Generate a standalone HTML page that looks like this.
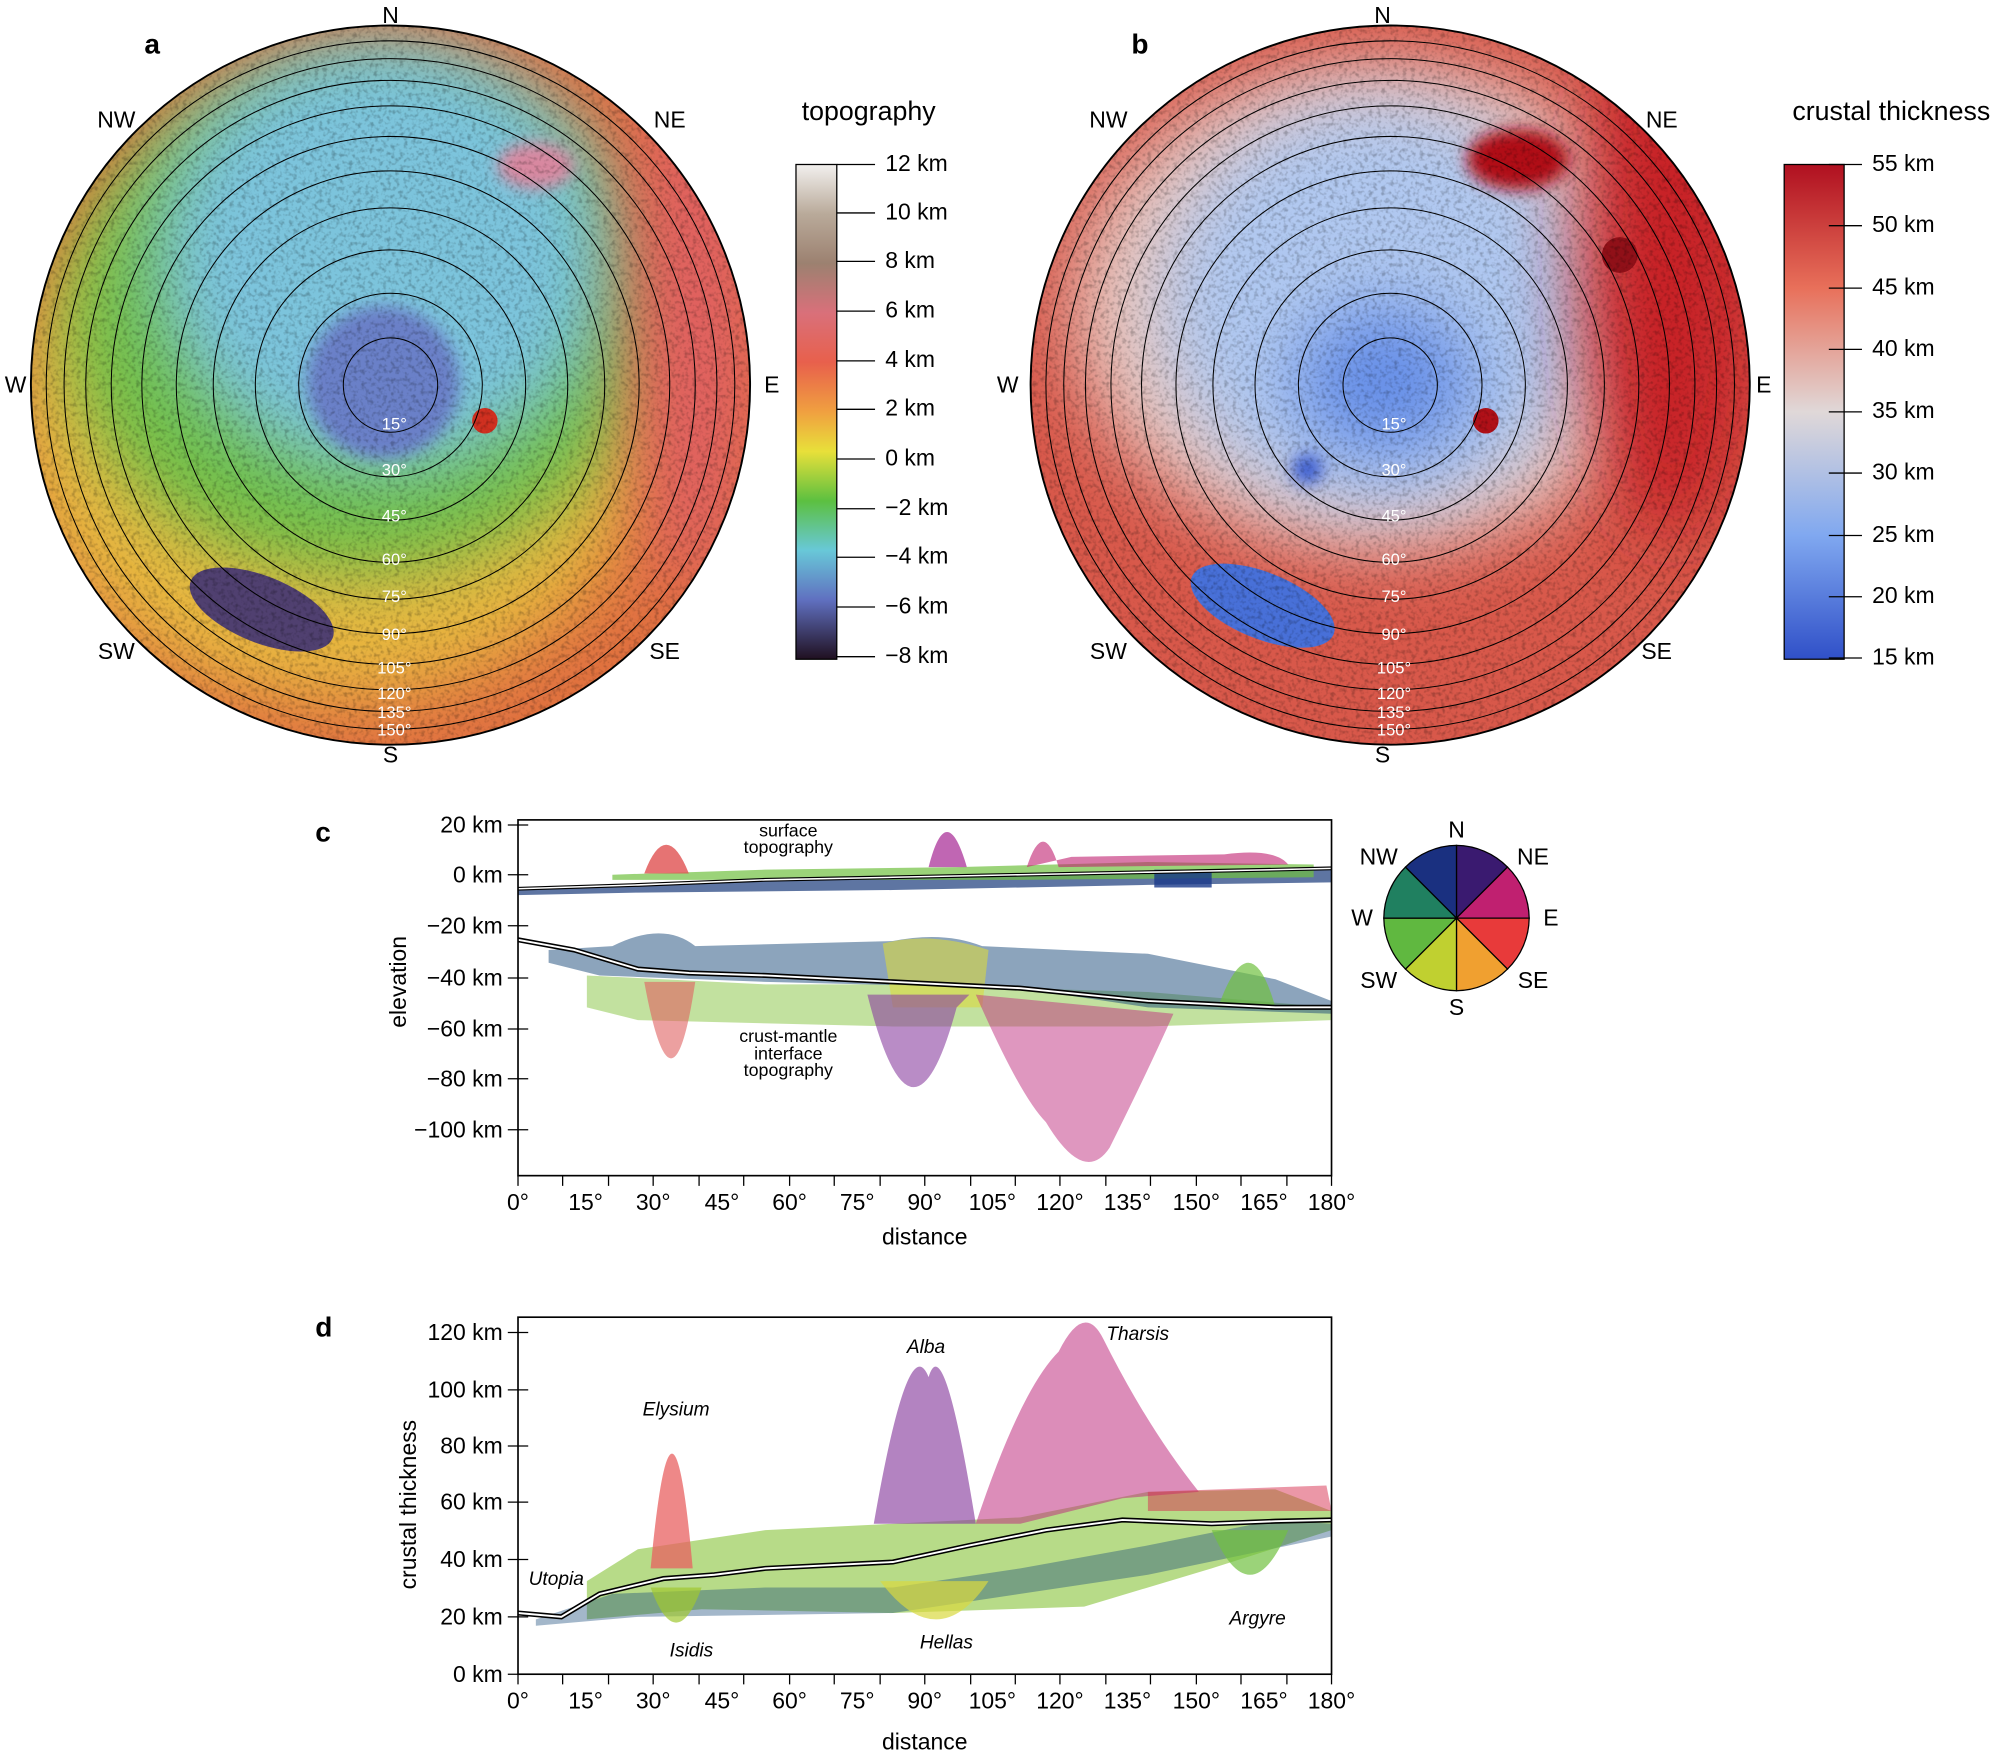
<!DOCTYPE html>
<html><head><meta charset="utf-8"><style>
html,body{margin:0;padding:0;background:#fff;}
svg{display:block;font-family:"Liberation Sans",sans-serif;}
</style></head><body>
<svg width="2000" height="1752" viewBox="0 0 1568 1374" xmlns="http://www.w3.org/2000/svg">
<defs>
<filter id="bl" x="-50%" y="-50%" width="200%" height="200%"><feGaussianBlur stdDeviation="28"/></filter>
<filter id="bl2" x="-50%" y="-50%" width="200%" height="200%"><feGaussianBlur stdDeviation="6"/></filter>
<filter id="tx" x="0" y="0" width="100%" height="100%"><feTurbulence type="fractalNoise" baseFrequency="0.3" numOctaves="2" seed="3"/><feColorMatrix values="0 0 0 0 0  0 0 0 0 0  0 0 0 0 0  0 0 0 -3 1.6"/></filter>
<clipPath id="ca"><circle cx="306" cy="302" r="282"/></clipPath>
<clipPath id="cb"><circle cx="1090" cy="302" r="282"/></clipPath>
<linearGradient id="gt" x1="0" y1="0" x2="0" y2="1">
<stop offset="0" stop-color="#f2f0ee"/><stop offset="0.1" stop-color="#b9aa9a"/><stop offset="0.2" stop-color="#9c8170"/>
<stop offset="0.3" stop-color="#d9707a"/><stop offset="0.4" stop-color="#e8604c"/><stop offset="0.5" stop-color="#f0a040"/>
<stop offset="0.58" stop-color="#e8e03a"/><stop offset="0.68" stop-color="#5cc040"/><stop offset="0.78" stop-color="#68c8d8"/>
<stop offset="0.88" stop-color="#6070c0"/><stop offset="1" stop-color="#201020"/></linearGradient>
<linearGradient id="gc" x1="0" y1="0" x2="0" y2="1">
<stop offset="0" stop-color="#b01020"/><stop offset="0.25" stop-color="#e8705a"/><stop offset="0.5" stop-color="#e0d8d8"/>
<stop offset="0.75" stop-color="#80a8f0"/><stop offset="1" stop-color="#3050c8"/></linearGradient>
</defs>
<rect width="1568" height="1374" fill="#fff"/>

<!-- panel a -->
<g clip-path="url(#ca)">
<circle cx="306" cy="302" r="282" fill="#e07040"/>
<ellipse cx="260" cy="330" rx="250" ry="220" fill="#e8b840" filter="url(#bl)"/>
<ellipse cx="280" cy="250" rx="230" ry="200" fill="#70c048" filter="url(#bl)"/>
<ellipse cx="300" cy="200" rx="180" ry="170" fill="#7cc4dc" filter="url(#bl)"/>
<ellipse cx="300" cy="300" rx="60" ry="60" fill="#6a80c8" filter="url(#bl2)"/>
<ellipse cx="545" cy="250" rx="50" ry="220" fill="#e06060" filter="url(#bl)"/>
<ellipse cx="420" cy="130" rx="30" ry="18" fill="#d888a0" filter="url(#bl2)"/>
<ellipse cx="205" cy="478" rx="60" ry="26" transform="rotate(22 205 478)" fill="#504070"/>
<circle cx="380" cy="330" r="10" fill="#d03020"/>
<rect x="20" y="20" width="580" height="570" filter="url(#tx)" opacity="0.22"/>
</g>
<g fill="none" stroke="#000" stroke-width="0.8">
<circle cx="306" cy="302" r="37"/><circle cx="306" cy="302" r="72"/><circle cx="306" cy="302" r="106"/>
<circle cx="306" cy="302" r="139"/><circle cx="306" cy="302" r="168"/><circle cx="306" cy="302" r="195"/>
<circle cx="306" cy="302" r="219"/><circle cx="306" cy="302" r="239"/><circle cx="306" cy="302" r="256"/><circle cx="306" cy="302" r="270"/>
<circle cx="306" cy="302" r="282" stroke-width="1.5"/>
</g>
<g font-size="13" fill="#fff" text-anchor="middle">
<text x="309" y="337">15°</text><text x="309" y="373">30°</text><text x="309" y="409">45°</text><text x="309" y="443">60°</text>
<text x="309" y="472">75°</text><text x="309" y="502">90°</text><text x="309" y="528">105°</text><text x="309" y="548">120°</text>
<text x="309" y="563">135°</text><text x="309" y="577">150°</text></g>
<g font-size="18" text-anchor="middle"><text x="306" y="18">N</text><text x="306" y="598">S</text><text x="12" y="308">W</text><text x="605" y="308">E</text>
<text x="91" y="100">NW</text><text x="525" y="100">NE</text><text x="91" y="517">SW</text><text x="521" y="517">SE</text>
<text x="681" y="94" font-size="21">topography</text></g>
<text x="113" y="42" font-size="22" font-weight="bold">a</text>
<rect x="624" y="129" width="32" height="388" fill="url(#gt)" stroke="#000"/>
<g stroke="#000"><path d="M656 129h30M656 167h30M656 205h30M656 244h30M656 283h30M656 321h30M656 360h30M656 399h30M656 437h30M656 476h30M656 515h30"/></g>
<g font-size="18"><text x="694" y="134">12 km</text><text x="694" y="172">10 km</text><text x="694" y="210">8 km</text><text x="694" y="249">6 km</text>
<text x="694" y="288">4 km</text><text x="694" y="326">2 km</text><text x="694" y="365">0 km</text><text x="694" y="404">−2 km</text>
<text x="694" y="442">−4 km</text><text x="694" y="481">−6 km</text><text x="694" y="520">−8 km</text></g>

<!-- panel b -->
<g clip-path="url(#cb)">
<circle cx="1090" cy="302" r="282" fill="#d8584a"/>
<ellipse cx="1080" cy="240" rx="240" ry="190" fill="#e8c8c0" filter="url(#bl)"/>
<ellipse cx="1080" cy="240" rx="170" ry="160" fill="#b0c8f0" filter="url(#bl)"/>
<ellipse cx="1085" cy="300" rx="70" ry="60" fill="#6890e8" filter="url(#bl)"/>
<ellipse cx="1310" cy="210" rx="70" ry="210" fill="#c82028" filter="url(#bl)"/>
<ellipse cx="1190" cy="125" rx="40" ry="24" fill="#b01018" filter="url(#bl2)"/>
<circle cx="1270" cy="200" r="14" fill="#901018"/>
<ellipse cx="990" cy="475" rx="60" ry="26" transform="rotate(22 990 475)" fill="#4870d8"/>
<circle cx="1025" cy="368" r="12" fill="#4060d0" filter="url(#bl2)"/>
<circle cx="1165" cy="330" r="10" fill="#b01018"/>
<rect x="800" y="20" width="580" height="570" filter="url(#tx)" opacity="0.22"/>
</g>
<g fill="none" stroke="#000" stroke-width="0.8">
<circle cx="1090" cy="302" r="37"/><circle cx="1090" cy="302" r="72"/><circle cx="1090" cy="302" r="106"/>
<circle cx="1090" cy="302" r="139"/><circle cx="1090" cy="302" r="168"/><circle cx="1090" cy="302" r="195"/>
<circle cx="1090" cy="302" r="219"/><circle cx="1090" cy="302" r="239"/><circle cx="1090" cy="302" r="256"/><circle cx="1090" cy="302" r="270"/>
<circle cx="1090" cy="302" r="282" stroke-width="1.5"/>
</g>
<g font-size="13" fill="#fff" text-anchor="middle">
<text x="1093" y="337">15°</text><text x="1093" y="373">30°</text><text x="1093" y="409">45°</text><text x="1093" y="443">60°</text>
<text x="1093" y="472">75°</text><text x="1093" y="502">90°</text><text x="1093" y="528">105°</text><text x="1093" y="548">120°</text>
<text x="1093" y="563">135°</text><text x="1093" y="577">150°</text></g>
<g font-size="18" text-anchor="middle"><text x="1084" y="18">N</text><text x="1084" y="598">S</text><text x="790" y="308">W</text><text x="1383" y="308">E</text>
<text x="869" y="100">NW</text><text x="1303" y="100">NE</text><text x="869" y="517">SW</text><text x="1299" y="517">SE</text>
<text x="1483" y="94" font-size="21">crustal thickness</text></g>
<text x="887" y="42" font-size="22" font-weight="bold">b</text>
<rect x="1399" y="129" width="47" height="388" fill="url(#gc)" stroke="#000"/>
<g stroke="#000"><path d="M1434 129h26M1434 177h26M1434 226h26M1434 274h26M1434 323h26M1434 371h26M1434 420h26M1434 468h26M1434 516h26"/></g>
<g font-size="18"><text x="1468" y="134">55 km</text><text x="1468" y="182">50 km</text><text x="1468" y="231">45 km</text><text x="1468" y="279">40 km</text>
<text x="1468" y="328">35 km</text><text x="1468" y="376">30 km</text><text x="1468" y="425">25 km</text><text x="1468" y="473">20 km</text><text x="1468" y="521">15 km</text></g>

<!-- panel c -->
<text x="247" y="660" font-size="22" font-weight="bold">c</text>
<g>
<path d="M406 698 L500 694 L600 690 L700 688 L800 686 L900 684 L1000 682 L1044 681 L1044 692 L900 694 L700 698 L500 700 L406 702Z" fill="#1a3a7a" opacity="0.7"/>
<path d="M480 686 L600 682 L750 680 L900 676 L1030 678 L1030 688 L800 690 L600 690 L480 690Z" fill="#70c040" opacity="0.7"/>
<path d="M505 685 Q522 640 540 685Z" fill="#e05050" opacity="0.8"/>
<path d="M728 680 Q742 625 758 680Z" fill="#b040a0" opacity="0.8"/>
<path d="M805 680 Q818 640 830 680 L1010 678 Q1000 665 960 670 L840 672Z" fill="#c02070" opacity="0.6"/>
<path d="M905 682 L950 682 L950 696 L905 696Z" fill="#1a3a8a" opacity="0.8"/>
<path d="M406 697 L500 694 L600 690 L700 688 L800 686 L900 684 L1000 682 L1044 681" fill="none" stroke="#000" stroke-width="3"/>
<path d="M406 697 L500 694 L600 690 L700 688 L800 686 L900 684 L1000 682 L1044 681" fill="none" stroke="#fff" stroke-width="1.2"/>
<path d="M460 765 L600 772 L700 772 L900 778 L1044 790 L1044 800 L900 805 L700 805 L500 800 L460 790Z" fill="#90c850" opacity="0.55"/>
<path d="M430 745 L480 742 Q520 722 545 742 L700 738 Q740 730 770 742 L900 748 L1000 768 L1044 785 L1044 795 L900 790 L800 775 L600 770 L470 765 L430 755Z" fill="#1a4a7a" opacity="0.5"/>
<path d="M692 740 Q730 730 775 745 L770 790 L700 790Z" fill="#d8d840" opacity="0.6"/>
<path d="M955 790 Q980 720 1000 790Z" fill="#70c040" opacity="0.7"/>
<path d="M505 770 Q527 890 545 770Z" fill="#e06060" opacity="0.6"/>
<path d="M680 780 Q715 920 750 790 L760 780Z" fill="#8a40a0" opacity="0.6"/>
<path d="M765 780 Q800 860 820 880 Q850 930 870 900 Q900 840 920 795Z" fill="#c03080" opacity="0.5"/>
<path d="M406 737 L450 745 L500 760 L540 763 L600 765 L700 770 L800 775 L900 785 L1000 790 L1044 790" fill="none" stroke="#000" stroke-width="4"/>
<path d="M406 737 L450 745 L500 760 L540 763 L600 765 L700 770 L800 775 L900 785 L1000 790 L1044 790" fill="none" stroke="#fff" stroke-width="1.5"/>
</g>
<rect x="406" y="643" width="638" height="279" fill="none" stroke="#000" stroke-width="1.3"/>
<g stroke="#000"><path d="M398 647h16M398 686h16M398 726h16M398 767h16M398 807h16M398 846h16M398 886h16"/>
<path d="M406 922v8M441 922v8M477 922v8M512 922v8M548 922v8M583 922v8M619 922v8M654 922v8M690 922v8M725 922v8M761 922v8M796 922v8M831 922v8M867 922v8M902 922v8M938 922v8M973 922v8M1009 922v8M1044 922v8"/></g>
<g font-size="18" text-anchor="end"><text x="394" y="653">20 km</text><text x="394" y="692">0 km</text><text x="394" y="732">−20 km</text><text x="394" y="773">−40 km</text>
<text x="394" y="813">−60 km</text><text x="394" y="852">−80 km</text><text x="394" y="892">−100 km</text></g>
<g font-size="18" text-anchor="middle"><text x="406" y="949">0°</text><text x="459" y="949">15°</text><text x="512" y="949">30°</text><text x="566" y="949">45°</text>
<text x="619" y="949">60°</text><text x="672" y="949">75°</text><text x="725" y="949">90°</text><text x="778" y="949">105°</text><text x="831" y="949">120°</text>
<text x="884" y="949">135°</text><text x="938" y="949">150°</text><text x="991" y="949">165°</text><text x="1044" y="949">180°</text>
<text x="725" y="976">distance</text></g>
<text x="318" y="770" font-size="18" text-anchor="middle" transform="rotate(-90 318 770)">elevation</text>
<g font-size="14" text-anchor="middle"><text x="618" y="656">surface</text><text x="618" y="669">topography</text>
<text x="618" y="817">crust-mantle</text><text x="618" y="831">interface</text><text x="618" y="844">topography</text></g>
<!-- compass -->
<g stroke="#000" stroke-width="1">
<path d="M1142 720 L1142 663 A57 57 0 0 1 1182 680Z" fill="#3a1a70"/>
<path d="M1142 720 L1182 680 A57 57 0 0 1 1199 720Z" fill="#c02070"/>
<path d="M1142 720 L1199 720 A57 57 0 0 1 1182 760Z" fill="#e83a3a"/>
<path d="M1142 720 L1182 760 A57 57 0 0 1 1142 777Z" fill="#f0a030"/>
<path d="M1142 720 L1142 777 A57 57 0 0 1 1102 760Z" fill="#c0d030"/>
<path d="M1142 720 L1102 760 A57 57 0 0 1 1085 720Z" fill="#60b840"/>
<path d="M1142 720 L1085 720 A57 57 0 0 1 1102 680Z" fill="#208060"/>
<path d="M1142 720 L1102 680 A57 57 0 0 1 1142 663Z" fill="#1a3080"/>
</g>
<g font-size="18" text-anchor="middle"><text x="1142" y="657">N</text><text x="1142" y="796">S</text><text x="1068" y="726">W</text><text x="1216" y="726">E</text>
<text x="1081" y="678">NW</text><text x="1202" y="678">NE</text><text x="1081" y="775">SW</text><text x="1202" y="775">SE</text></g>

<!-- panel d -->
<text x="247" y="1048" font-size="22" font-weight="bold">d</text>
<g>
<path d="M460 1240 L500 1215 L600 1200 L700 1195 L800 1190 L900 1170 L1000 1168 L1044 1185 L1044 1200 L950 1230 L850 1260 L700 1265 L550 1262 L460 1270Z" fill="#90c848" opacity="0.65"/>
<path d="M420 1270 L480 1250 L600 1245 L700 1245 L800 1230 L900 1212 L1000 1192 L1044 1195 L1044 1205 L900 1235 L700 1265 L500 1268 L420 1275Z" fill="#1a4a7a" opacity="0.4"/>
<path d="M510 1230 Q527 1050 543 1230Z" fill="#e86060" opacity="0.75"/>
<path d="M685 1195 Q712 1040 728 1080 Q740 1040 765 1195Z" fill="#8a40a0" opacity="0.65"/>
<path d="M765 1195 Q800 1090 830 1060 Q850 1020 865 1050 Q900 1120 940 1170 L880 1175 L800 1195Z" fill="#c03080" opacity="0.55"/>
<path d="M900 1170 L1040 1165 L1044 1185 L900 1185Z" fill="#d83050" opacity="0.5"/>
<path d="M690 1240 Q735 1300 775 1240Z" fill="#d8d840" opacity="0.7"/>
<path d="M510 1245 Q530 1300 550 1245Z" fill="#a0c830" opacity="0.7"/>
<path d="M950 1200 Q980 1270 1010 1200Z" fill="#70c040" opacity="0.7"/>
<path d="M406 1265 L440 1268 L470 1250 L520 1238 L560 1235 L600 1230 L700 1225 L760 1212 L820 1200 L880 1192 L950 1195 L1000 1193 L1044 1192" fill="none" stroke="#000" stroke-width="4"/>
<path d="M406 1265 L440 1268 L470 1250 L520 1238 L560 1235 L600 1230 L700 1225 L760 1212 L820 1200 L880 1192 L950 1195 L1000 1193 L1044 1192" fill="none" stroke="#fff" stroke-width="1.5"/>
</g>
<rect x="406" y="1033" width="638" height="280" fill="none" stroke="#000" stroke-width="1.3"/>
<g stroke="#000"><path d="M398 1045h16M398 1090h16M398 1134h16M398 1178h16M398 1223h16M398 1268h16M398 1313h16"/>
<path d="M406 1313v8M441 1313v8M477 1313v8M512 1313v8M548 1313v8M583 1313v8M619 1313v8M654 1313v8M690 1313v8M725 1313v8M761 1313v8M796 1313v8M831 1313v8M867 1313v8M902 1313v8M938 1313v8M973 1313v8M1009 1313v8M1044 1313v8"/></g>
<g font-size="18" text-anchor="end"><text x="394" y="1051">120 km</text><text x="394" y="1096">100 km</text><text x="394" y="1140">80 km</text><text x="394" y="1184">60 km</text>
<text x="394" y="1229">40 km</text><text x="394" y="1274">20 km</text><text x="394" y="1319">0 km</text></g>
<g font-size="18" text-anchor="middle"><text x="406" y="1340">0°</text><text x="459" y="1340">15°</text><text x="512" y="1340">30°</text><text x="566" y="1340">45°</text>
<text x="619" y="1340">60°</text><text x="672" y="1340">75°</text><text x="725" y="1340">90°</text><text x="778" y="1340">105°</text><text x="831" y="1340">120°</text>
<text x="884" y="1340">135°</text><text x="938" y="1340">150°</text><text x="991" y="1340">165°</text><text x="1044" y="1340">180°</text>
<text x="725" y="1372">distance</text></g>
<text x="326" y="1180" font-size="18" text-anchor="middle" transform="rotate(-90 326 1180)">crustal thickness</text>
<g font-size="15" font-style="italic" text-anchor="middle"><text x="530" y="1110">Elysium</text><text x="726" y="1061">Alba</text><text x="892" y="1051">Tharsis</text>
<text x="436" y="1243">Utopia</text><text x="542" y="1299">Isidis</text><text x="742" y="1293">Hellas</text><text x="986" y="1274">Argyre</text></g>
</svg>
</body></html>
